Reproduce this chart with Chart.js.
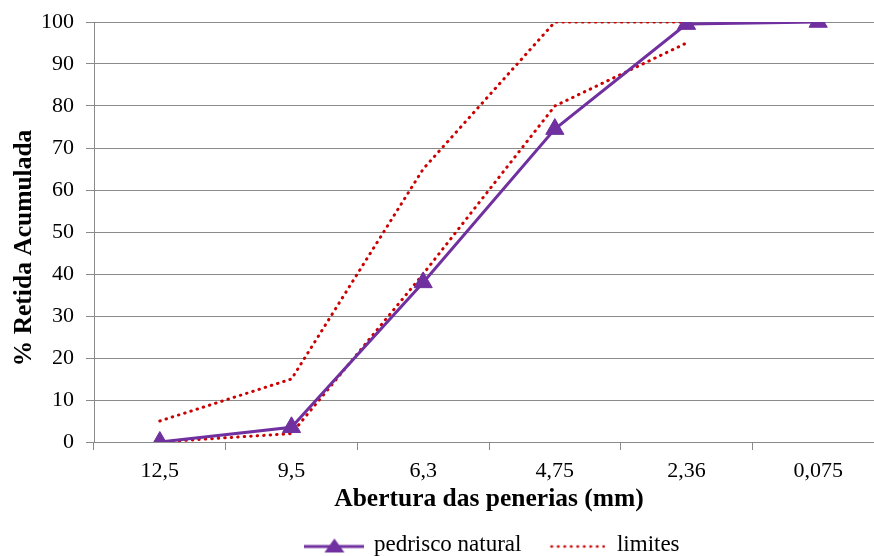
<!DOCTYPE html>
<html>
<head>
<meta charset="utf-8">
<script src="https://cdn.jsdelivr.net/npm/chart.js@4.4.0/dist/chart.umd.min.js"></script>
<style>
  html, body { margin: 0; padding: 0; background: #fff; }
  #grafico { display: block; }
</style>
</head>
<body>
<canvas id="grafico" width="874" height="556"></canvas>
<script>
// Dados
const aberturas = ['12,5', '9,5', '6,3', '4,75', '2,36', '0,075'];
const pedrisco = [0, 3.5, 38, 74.5, 99.5, 100];
const limiteInferior = [0, 2, 40, 80, 95, null];
const limiteSuperior = [5, 15, 65, 100, 100, null];

const roxo = '#7030A0';
const vermelho = '#CC0000';
const cinza = '#8A8A8A';
const fonte = '"Liberation Serif", "Times New Roman", serif';

// Símbolos da legenda desenhados num canvas auxiliar
function simboloPedrisco() {
    const c = document.createElement('canvas');
    c.width = 60; c.height = 22;
    const g = c.getContext('2d');
    g.strokeStyle = roxo;
    g.lineWidth = 3;
    g.beginPath();
    g.moveTo(0, 13);
    g.lineTo(60, 13);
    g.stroke();
    g.fillStyle = roxo;
    g.beginPath();
    g.moveTo(30, 5);
    g.lineTo(40, 19);
    g.lineTo(20, 19);
    g.closePath();
    g.fill();
    return c;
}
function simboloLimites() {
    const c = document.createElement('canvas');
    c.width = 56; c.height = 22;
    const g = c.getContext('2d');
    g.strokeStyle = vermelho;
    g.lineWidth = 2.5;
    g.lineCap = 'round';
    g.setLineDash([0.5, 6]);
    g.beginPath();
    g.moveTo(2, 13);
    g.lineTo(55, 13);
    g.stroke();
    return c;
}
const iconePedrisco = simboloPedrisco();
const iconeLimites = simboloLimites();

// No original a área de plotagem passa da borda direita (última divisão cortada),
// então fixamos a área depois do layout
const areaFixa = {
    id: 'areaFixa',
    afterLayout(chart) {
        const area = chart.chartArea;
        area.left = 94; area.top = 22; area.right = 884; area.bottom = 442;
        area.width = area.right - area.left;
        area.height = area.bottom - area.top;

        const x = chart.scales.x;
        x.left = area.left; x.right = area.right; x.width = area.width;
        x.top = area.bottom; x.height = x.bottom - x.top;
        x.configure();

        const y = chart.scales.y;
        y.top = area.top; y.bottom = area.bottom; y.height = area.height;
        y.left = 0; y.right = area.left; y.width = area.left;
        y.configure();

        // legenda um pouco à direita, como no original
        chart.legend.left += 9;
        chart.legend.right += 9;
    }
};

new Chart(document.getElementById('grafico'), {
    type: 'line',
    plugins: [areaFixa],
    data: {
        labels: aberturas,
        datasets: [
            {
                label: 'pedrisco natural',
                data: pedrisco,
                borderColor: roxo,
                backgroundColor: roxo,
                borderWidth: 3,
                pointStyle: 'triangle',
                pointRadius: 10.5,
                pointBorderWidth: 1,
                tension: 0,
                order: 0
            },
            {
                label: 'limites',
                data: limiteInferior,
                borderColor: vermelho,
                backgroundColor: vermelho,
                borderWidth: 3,
                borderDash: [0.5, 6],
                borderCapStyle: 'round',
                pointRadius: 0,
                tension: 0,
                order: 1
            },
            {
                label: 'limites sup',
                data: limiteSuperior,
                borderColor: vermelho,
                backgroundColor: vermelho,
                borderWidth: 3,
                borderDash: [0.5, 6],
                borderCapStyle: 'round',
                pointRadius: 0,
                tension: 0,
                order: 1
            }
        ]
    },
    options: {
        responsive: false,
        animation: false,
        layout: { autoPadding: false, padding: { top: 22, right: 0, left: 0, bottom: -10 } },
        plugins: {
            tooltip: { enabled: false },
            legend: {
                position: 'bottom',
                fullSize: false,
                labels: {
                    font: { family: fonte, size: 23 },
                    color: '#000',
                    usePointStyle: true,
                    pointStyleWidth: 56,
                    padding: 28,
                    filter: item => item.datasetIndex !== 2,
                    generateLabels: chart => {
                        const base = Chart.defaults.plugins.legend.labels.generateLabels(chart);
                        base.forEach(item => {
                            item.pointStyle = item.datasetIndex === 0 ? iconePedrisco : iconeLimites;
                            item.lineWidth = 0;
                        });
                        return base;
                    }
                }
            }
        },
        scales: {
            x: {
                offset: true,
                grid: { offset: true, drawOnChartArea: false, color: cinza, tickLength: 8 },
                border: { color: cinza, width: 1 },
                ticks: { font: { family: fonte, size: 22 }, color: '#000', padding: 8 },
                title: {
                    display: true,
                    text: 'Abertura das penerias (mm)',
                    font: { family: fonte, size: 25.5, weight: 'bold' },
                    color: '#000',
                    padding: { top: 0, bottom: -10 }
                },
                afterFit: scale => { scale.height = 63; }
            },
            y: {
                min: 0,
                max: 100,
                ticks: { stepSize: 10, font: { family: fonte, size: 22 }, color: '#000', padding: 12 },
                grid: { color: cinza, tickLength: 8 },
                border: { color: cinza, width: 1 },
                title: {
                    display: true,
                    // espaços finais baixam o título, como no original
                    text: '% Retida Acumulada     ',
                    font: { family: fonte, size: 25.5, weight: 'bold' },
                    color: '#000',
                    padding: { top: 9, bottom: 0 }
                },
                afterFit: scale => { scale.width = 94; }
            }
        }
    }
});
</script>
</body>
</html>
